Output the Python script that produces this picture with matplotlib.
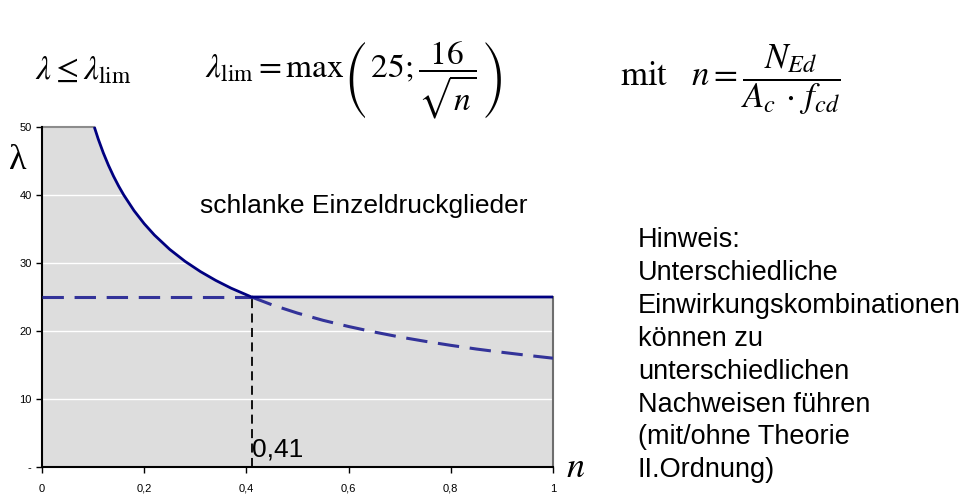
import matplotlib
matplotlib.use("Agg")
import matplotlib.pyplot as plt

plt.rcParams["mathtext.fontset"] = "stix"

# Slenderness limit curve lambda_lim (solid part, left branch)
n_curve = [0.1024, 0.11, 0.12, 0.13, 0.14, 0.15, 0.16, 0.18, 0.20, 0.22,
           0.25, 0.28, 0.31, 0.34, 0.37, 0.41]
lam_curve = [50.0, 48.24, 46.19, 44.38, 42.76, 41.31, 40.00, 37.71, 35.78,
             34.11, 32.00, 30.24, 28.74, 27.44, 26.30, 25.0]

# Plateau of the limit
n_plateau = [0.41, 1.0]
lam_plateau = [25.0, 25.0]

# Continuation of 16/sqrt(n) below the plateau (dashed)
n_tail = [0.41, 0.45, 0.50, 0.55, 0.60, 0.65, 0.70, 0.75, 0.80, 0.85,
          0.90, 0.95, 1.00]
lam_tail = [25.0, 23.85, 22.63, 21.57, 20.66, 19.85, 19.12, 18.48, 17.89,
            17.35, 16.87, 16.42, 16.00]

# Dashed plateau line on the left
n_left = [0.0, 0.41]
lam_left = [25.0, 25.0]

n_mark = 0.41
lam_max = 50.0

x_ticks = [0, 0.2, 0.4, 0.6, 0.8, 1.0]
x_tick_labels = ["0", "0,2", "0,4", "0,6", "0,8", "1"]
y_ticks = [0, 10, 20, 30, 40, 50]
y_tick_labels = ["-", "10", "20", "30", "40", "50"]

note_lines = ["Hinweis:", "Unterschiedliche", "Einwirkungskombinationen",
              "können zu", "unterschiedlichen", "Nachweisen führen",
              "(mit/ohne Theorie", "II.Ordnung)"]

W, H = 973, 495
fig = plt.figure(figsize=(W / 100, H / 100), dpi=100)
ax = fig.add_axes([42 / W, 1 - 467 / H, (553 - 42) / W, (467 - 127) / H])

# Shaded region below the limit
fill_x = [0.0] + n_curve + [1.0]
fill_y = [lam_max] + lam_curve + [25.0]
ax.fill_between(fill_x, 0, fill_y, color="#dddddd", lw=0, zorder=1)
for yv in [10, 20, 30, 40]:
    ax.axhline(yv, color="white", lw=1.0, zorder=1.5)
ax.plot([0.0, n_curve[0]], [lam_max, lam_max], color="#8c8c8c", lw=1.5,
        clip_on=False, zorder=2)
ax.plot([1.0, 1.0], [0, 25.0], color="#6e6e6e", lw=1.5, clip_on=False, zorder=2)

# Limit curve
ax.plot(n_curve + n_plateau[1:], lam_curve + lam_plateau[1:], color="#000080",
        lw=2.0, solid_capstyle="butt", clip_on=False, zorder=4)
ax.plot(n_left, lam_left, color="#333399", lw=2.2, dashes=(7, 3.5), zorder=3)
ax.plot(n_tail, lam_tail, color="#333399", lw=2.2, dashes=(7, 3.5), zorder=3)
ax.plot([n_mark, n_mark], [0, 25.0], color="black", lw=1.3, dashes=(5, 3),
        zorder=3)

ax.set_xlim(0, 1)
ax.set_ylim(0, 50)
ax.set_xticks(x_ticks)
ax.set_xticklabels(x_tick_labels)
ax.set_yticks(y_ticks)
ax.set_yticklabels(y_tick_labels)
ax.tick_params(axis="both", labelsize=8, length=4, width=1.0, direction="out",
               colors="black")
ax.tick_params(axis="x", pad=8)
for lbl in ax.get_xticklabels() + ax.get_yticklabels():
    lbl.set_family("Liberation Sans")
for s in ["top", "right"]:
    ax.spines[s].set_visible(False)
ax.spines["left"].set_linewidth(1.5)
ax.spines["bottom"].set_linewidth(1.5)
ax.set_facecolor("white")

# Annotations inside the plot
fig.text(252 / W, 1 - 457 / H, "0,41", fontsize=19, family="Liberation Sans",
         ha="left", va="baseline")
fig.text(200 / W, 1 - 213 / H, "schlanke Einzeldruckglieder", fontsize=19,
         family="Liberation Sans", ha="left", va="baseline")

# Axis symbols
fig.text(18 / W, 1 - 160 / H, "λ", fontsize=26, family="Liberation Serif",
         ha="center", va="center")
fig.text(566 / W, 1 - 467 / H, "$n$", fontsize=26, ha="left", va="center")

# Formulas above the chart
fig.text(35 / W, 1 - 70 / H, r"$\lambda \leq \lambda_{\mathrm{lim}}$",
         fontsize=24, ha="left", va="center")
fig.text(205 / W, 1 - 80 / H,
         r"$\lambda_{\mathrm{lim}} = \mathrm{max}\left(\,25;\dfrac{16}{\sqrt{n}}\,\right)$",
         fontsize=24, ha="left", va="center")
fig.text(620 / W, 1 - 80 / H,
         r"$\mathrm{mit}\quad n = \dfrac{N_{Ed}}{A_c\,\cdot\,f_{cd}}$",
         fontsize=25, ha="left", va="center")

# Remark on the right
for i, line in enumerate(note_lines):
    fig.text(638 / W, 1 - (247 + 32.9 * i) / H, line, fontsize=19.5,
             family="Liberation Sans", ha="left", va="baseline")

fig.savefig("out.png", dpi=100)
